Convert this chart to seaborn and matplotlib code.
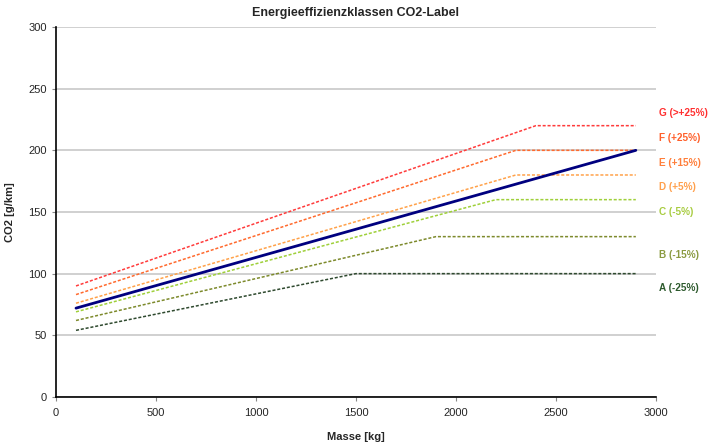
import pandas as pd
import matplotlib
matplotlib.use("Agg")
import matplotlib.pyplot as plt
import seaborn as sns

# Reference line (Zielwert) and class boundaries
ref_x = [100, 2900]
ref_y = [72, 200]

bound_g_x = [100, 2400, 2900]
bound_g_y = [90, 220, 220]
bound_f_x = [100, 2300, 2900]
bound_f_y = [83, 200, 200]
bound_e_x = [100, 2300, 2900]
bound_e_y = [76, 180, 180]
bound_d_x = [100, 2200, 2900]
bound_d_y = [69, 160, 160]
bound_c_x = [100, 1900, 2900]
bound_c_y = [62, 130, 130]
bound_b_x = [100, 1500, 2900]
bound_b_y = [54, 100, 100]

bound_colors = ["#ff3b3b", "#ff6a2e", "#ffa24a", "#9fd03a", "#7d8a2c", "#2f4a2f"]

class_labels = ["G (>+25%)", "F (+25%)", "E (+15%)", "D (+5%)", "C (-5%)", "B (-15%)", "A (-25%)"]
class_label_y = [230, 210, 190, 170, 150, 115, 88]
class_colors = ["#ff3030", "#ff5f2a", "#ff7e3a", "#ffa04c", "#a8cc40", "#8a9a40", "#2d5a2d"]

sns.set_style("white")
plt.rcParams["font.family"] = ["Liberation Sans", "DejaVu Sans"]

fig = plt.figure(figsize=(7.09, 4.43), dpi=100)
ax = fig.add_axes([0.079, 0.104, 0.846, 0.835])

bounds = [
    (bound_g_x, bound_g_y),
    (bound_f_x, bound_f_y),
    (bound_e_x, bound_e_y),
    (bound_d_x, bound_d_y),
    (bound_c_x, bound_c_y),
    (bound_b_x, bound_b_y),
]
for (bx, by), col in zip(bounds, bound_colors):
    df = pd.DataFrame({"Masse": bx, "CO2": by})
    sns.lineplot(data=df, x="Masse", y="CO2", ax=ax, color=col,
                 linewidth=1.1, linestyle=(0, (2, 1.2)), zorder=3)

ref_df = pd.DataFrame({"Masse": ref_x, "CO2": ref_y})
sns.lineplot(data=ref_df, x="Masse", y="CO2", ax=ax, color="#00007f",
             linewidth=2.0, zorder=4)

for lab, y, col in zip(class_labels, class_label_y, class_colors):
    ax.text(3015, y, lab, color=col, fontsize=7.2, fontweight="bold",
            va="center", ha="left", clip_on=False)

ax.set_xlim(0, 3000)
ax.set_ylim(0, 300)
ax.set_xticks(range(0, 3001, 500))
ax.set_yticks(range(0, 301, 50))
ax.yaxis.grid(True, color="#c8c8c8", linewidth=1.2)
ax.set_axisbelow(True)
for s in ["top", "right"]:
    ax.spines[s].set_visible(False)
ax.spines["left"].set_color("black")
ax.spines["bottom"].set_color("black")
ax.spines["left"].set_linewidth(1.2)
ax.spines["bottom"].set_linewidth(1.2)
ax.tick_params(axis="both", labelsize=8, length=3, direction="out",
               color="#888888", left=True, bottom=True)
ax.tick_params(axis="x", pad=5)

ax.set_title("Energieeffizienzklassen CO2-Label", fontsize=9, fontweight="bold", pad=8)
ax.set_xlabel("Masse [kg]", fontsize=8, fontweight="bold", labelpad=10)
ax.set_ylabel("CO2 [g/km]", fontsize=8, fontweight="bold", labelpad=10)

fig.savefig("out.png", dpi=100)
